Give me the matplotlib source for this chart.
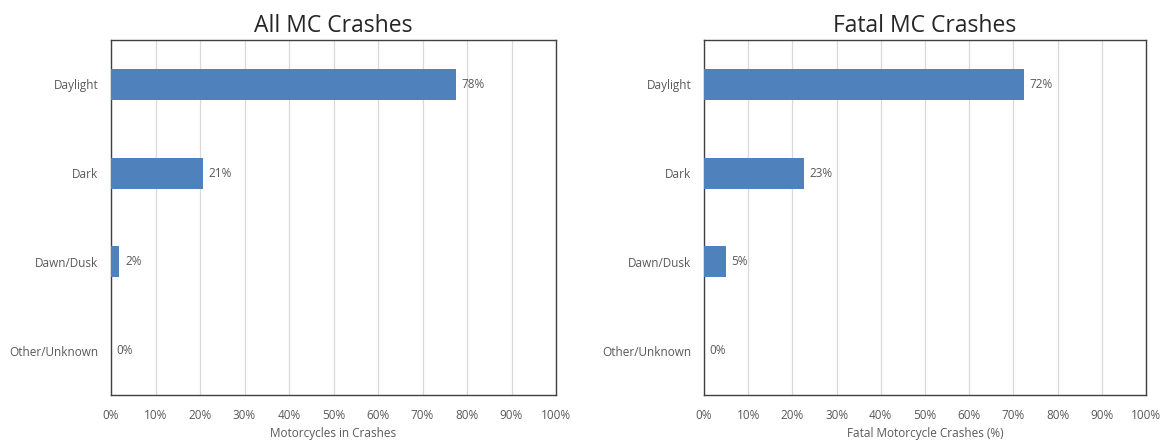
import matplotlib
import matplotlib.pyplot as plt
from matplotlib.ticker import MultipleLocator, PercentFormatter

matplotlib.rcParams["font.family"] = ["Open Sans", "DejaVu Sans"]

categories = ["Daylight", "Dark", "Dawn/Dusk", "Other/Unknown"]
all_mc = [77.6, 20.7, 1.9, 0.0]
fatal_mc = [72.4, 22.6, 4.9, 0.0]

BAR_COLOR = "#4F81BD"
TEXT_COLOR = "#595959"


def draw_panel(ax, values, title, xlabel):
    y = range(len(categories))
    bars = ax.barh(y, values, height=0.35, color=BAR_COLOR, zorder=3)
    ax.bar_label(bars, labels=[f"{v:.0f}%" for v in values], padding=4,
                 fontsize=8.5, color=TEXT_COLOR)
    ax.set_yticks(list(y))
    ax.set_yticklabels(categories, fontsize=8.5, color=TEXT_COLOR)
    ax.set_ylim(len(categories) - 0.5, -0.5)
    ax.set_xlim(0, 100)
    ax.xaxis.set_major_locator(MultipleLocator(10))
    ax.xaxis.set_major_formatter(PercentFormatter(decimals=0))
    ax.tick_params(axis="x", labelsize=8.5, labelcolor=TEXT_COLOR, length=0, pad=10)
    ax.tick_params(axis="y", length=0, pad=9)
    ax.xaxis.grid(True, color="#D9D9D9", linewidth=0.9, zorder=0)
    ax.set_axisbelow(True)
    for s in ax.spines.values():
        s.set_color("#404040")
        s.set_linewidth(1.0)
    ax.set_xlabel(xlabel, fontsize=8.5, color=TEXT_COLOR, labelpad=4)
    ax.set_title(title, fontsize=16.5, color="#262626", pad=6,
                 family=["Open Sans", "DejaVu Sans"])


fig = plt.figure(figsize=(11.67, 4.41), dpi=100)
ax1 = fig.add_axes([111 / 1167, 1 - 395 / 441, 445 / 1167, 355 / 441])
ax2 = fig.add_axes([704 / 1167, 1 - 395 / 441, 442 / 1167, 355 / 441])

draw_panel(ax1, all_mc, "All MC Crashes", "Motorcycles in Crashes")
draw_panel(ax2, fatal_mc, "Fatal MC Crashes", "Fatal Motorcycle Crashes (%)")

fig.savefig("out.png", dpi=100)
